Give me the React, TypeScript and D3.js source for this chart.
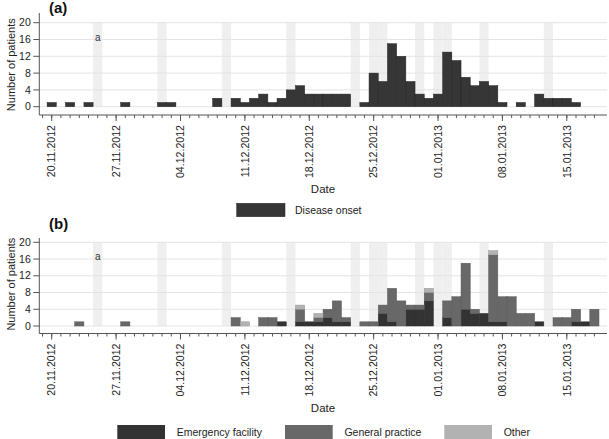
import React from "react";
import * as d3 from "d3";

// ---- data (day index 0 = 20.11.2012) ----
const dateTickDays = [0, 7, 14, 21, 28, 35, 42, 49, 56];
const dateTickLabels = [
  "20.11.2012", "27.11.2012", "04.12.2012", "11.12.2012", "18.12.2012",
  "25.12.2012", "01.01.2013", "08.01.2013", "15.01.2013",
];
const yTicks = [0, 4, 8, 12, 16, 20];
// Sundays and public holidays (shaded)
const bandDays = [5, 12, 19, 26, 33, 35, 36, 40, 42, 43, 47, 54];

// Panel (a): disease onset
const onsetDays = [0, 2, 4, 8, 12, 13, 18, 20, 21, 22, 23, 24, 25, 26, 27, 28, 29, 30, 31, 32,
  34, 35, 36, 37, 38, 39, 40, 41, 42, 43, 44, 45, 46, 47, 48, 49, 51, 53, 54, 55, 56, 57];
const onsetCounts = [1, 1, 1, 1, 1, 1, 2, 2, 1, 2, 3, 1, 2, 4, 5, 3, 3, 3, 3, 3,
  1, 8, 6, 15, 12, 6, 3, 2, 3, 13, 11, 7, 5, 6, 5, 1, 1, 3, 2, 2, 2, 1];

// Panel (b): consultations by setting
const consultDays = [3, 8, 20, 21, 23, 24, 25, 27, 28, 29, 30, 31, 32, 34, 35, 36, 37, 38, 39, 40, 41,
  43, 44, 45, 46, 47, 48, 49, 50, 51, 52, 53, 55, 56, 57, 58, 59];
const emergency = [0, 0, 0, 0, 0, 0, 1, 1, 1, 1, 2, 1, 1, 0, 0, 3, 1, 0, 4, 4, 6,
  2, 0, 4, 3, 3, 1, 1, 0, 0, 0, 1, 0, 0, 1, 1, 0];
const general = [1, 1, 2, 0, 2, 2, 0, 3, 0, 1, 2, 5, 1, 1, 1, 2, 8, 6, 1, 1, 2,
  4, 7, 11, 1, 0, 16, 6, 7, 3, 3, 0, 2, 2, 3, 0, 4];
const other = [0, 0, 0, 1, 0, 0, 0, 1, 0, 1, 0, 0, 0, 0, 0, 0, 0, 0, 0, 0, 1,
  0, 0, 0, 0, 0, 1, 0, 0, 0, 0, 0, 0, 0, 0, 0, 0];
const seriesNames = ["Emergency facility", "General practice", "Other"];
const seriesKeys = ["emergency", "general", "other"];
const seriesColors = ["#333333", "#686868", "#b2b2b2"];

const FONT = "'Liberation Sans', Arial, Helvetica, sans-serif";
const W = 609;
const H = 439;

const x = d3.scaleLinear().domain([-1.35, 60.37]).range([39.3, 607]);
const dayW = x(1) - x(0);
const minorDays = d3.range(-1, 60);

function Axes({ y, axisY, topY, title, titleY }: any) {
  const x0 = x.range()[0];
  const x1 = x.range()[1];
  return (
    <g>
      {/* bands */}
      {bandDays.map((d) => (
        <rect key={"b" + d} x={x(d) - dayW / 2} width={dayW} y={y(20)} height={y(0) - y(20)} fill="#efefef" />
      ))}
      {/* grid */}
      {yTicks.map((t) => (
        <line key={"g" + t} x1={x0} x2={x1} y1={y(t)} y2={y(t)} stroke="#e4e4e4" strokeWidth={1} />
      ))}
      {/* y axis */}
      <line x1={x0} x2={x0} y1={topY} y2={axisY} stroke="#555" strokeWidth={1} />
      {yTicks.map((t) => (
        <g key={"yt" + t}>
          <line x1={x0 - 6} x2={x0} y1={y(t)} y2={y(t)} stroke="#555" />
          <text x={x0 - 8.5} y={y(t)} dy="0.35em" textAnchor="end" fontSize={10.5} fontFamily={FONT} fill="#222">
            {t}
          </text>
        </g>
      ))}
      <text
        transform={`translate(${15},${(y(0) + y(20)) / 2}) rotate(-90)`}
        textAnchor="middle"
        fontSize={11}
        fontFamily={FONT}
        fill="#222"
      >
        Number of patients
      </text>
      {/* x axis */}
      <line x1={x0} x2={x1} y1={axisY} y2={axisY} stroke="#555" strokeWidth={1} />
      {minorDays.map((d) => (
        <line key={"mt" + d} x1={x(d)} x2={x(d)} y1={axisY} y2={axisY + 3} stroke="#555" />
      ))}
      {dateTickDays.map((d, i) => (
        <g key={"xt" + d}>
          <line x1={x(d)} x2={x(d)} y1={axisY} y2={axisY + 6} stroke="#555" />
          <text
            transform={`translate(${x(d)},${axisY + 10}) rotate(-90)`}
            textAnchor="end"
            dy="0.35em"
            fontSize={10.6}
            fontFamily={FONT}
            fill="#222"
          >
            {dateTickLabels[i]}
          </text>
        </g>
      ))}
      <text x={323} y={axisY + 78} textAnchor="middle" fontSize={11.5} fontFamily={FONT} fill="#222">
        Date
      </text>
      <text x={x(5)} y={y(16) - 2.5} dy="0.35em" textAnchor="middle" fontSize={10} fontFamily={FONT} fill="#333">
        a
      </text>
      <text x={49} y={titleY} fontSize={15} fontWeight="bold" fontFamily={FONT} fill="#111">
        {title}
      </text>
    </g>
  );
}

export default function App() {
  const yA = d3.scaleLinear().domain([0, 20]).range([106.7, 22.7]);
  const yB = d3.scaleLinear().domain([0, 20]).range([326, 242.3]);

  const rowsB = consultDays.map((d, i) => ({
    day: d,
    emergency: emergency[i],
    general: general[i],
    other: other[i],
  }));
  const stacked = d3.stack<any>().keys(seriesKeys)(rowsB);

  const legendA = { x: 236.7, y: 203.3 };
  const legendBX = [117.3, 285, 444.3];

  return (
    <svg
      width={W}
      height={H}
      style={{ position: "absolute", left: 0, top: 0, background: "#fff" }}
      xmlns="http://www.w3.org/2000/svg"
    >
      <rect width={W} height={H} fill="#fff" />
      {/* Panel (a) */}
      <Axes y={yA} axisY={115} topY={13} title="(a)" titleY={13} />
      {onsetDays.map((d, i) => (
        <rect
          key={"a" + d}
          x={x(d) - dayW / 2}
          width={dayW}
          y={yA(onsetCounts[i])}
          height={yA(0) - yA(onsetCounts[i])}
          fill="#363636"
          stroke="#222"
          strokeWidth={0.5}
        />
      ))}
      <rect x={legendA.x} y={legendA.y} width={48.3} height={13.4} fill="#363636" stroke="#222" strokeWidth={0.5} />
      <text x={295} y={legendA.y + 6.7} dy="0.35em" fontSize={10.5} fontFamily={FONT} fill="#222">
        Disease onset
      </text>

      {/* Panel (b) */}
      <Axes y={yB} axisY={333.5} topY={238} title="(b)" titleY={229} />
      {stacked.map((s, si) =>
        s.map((seg: any, i: number) =>
          seg[1] - seg[0] > 0 ? (
            <rect
              key={"s" + si + "-" + i}
              x={x(seg.data.day) - dayW / 2}
              width={dayW}
              y={yB(seg[1])}
              height={yB(seg[0]) - yB(seg[1])}
              fill={seriesColors[si]}
              stroke={d3.color(seriesColors[si])!.darker(0.4).toString()}
              strokeWidth={0.5}
            />
          ) : null
        )
      )}
      {seriesNames.map((n, i) => (
        <g key={"lb" + i}>
          <rect x={legendBX[i]} y={425} width={47.7} height={14} fill={seriesColors[i]} />
          <text x={legendBX[i] + 59.4} y={432} dy="0.35em" fontSize={10.5} fontFamily={FONT} fill="#222">
            {n}
          </text>
        </g>
      ))}
    </svg>
  );
}
